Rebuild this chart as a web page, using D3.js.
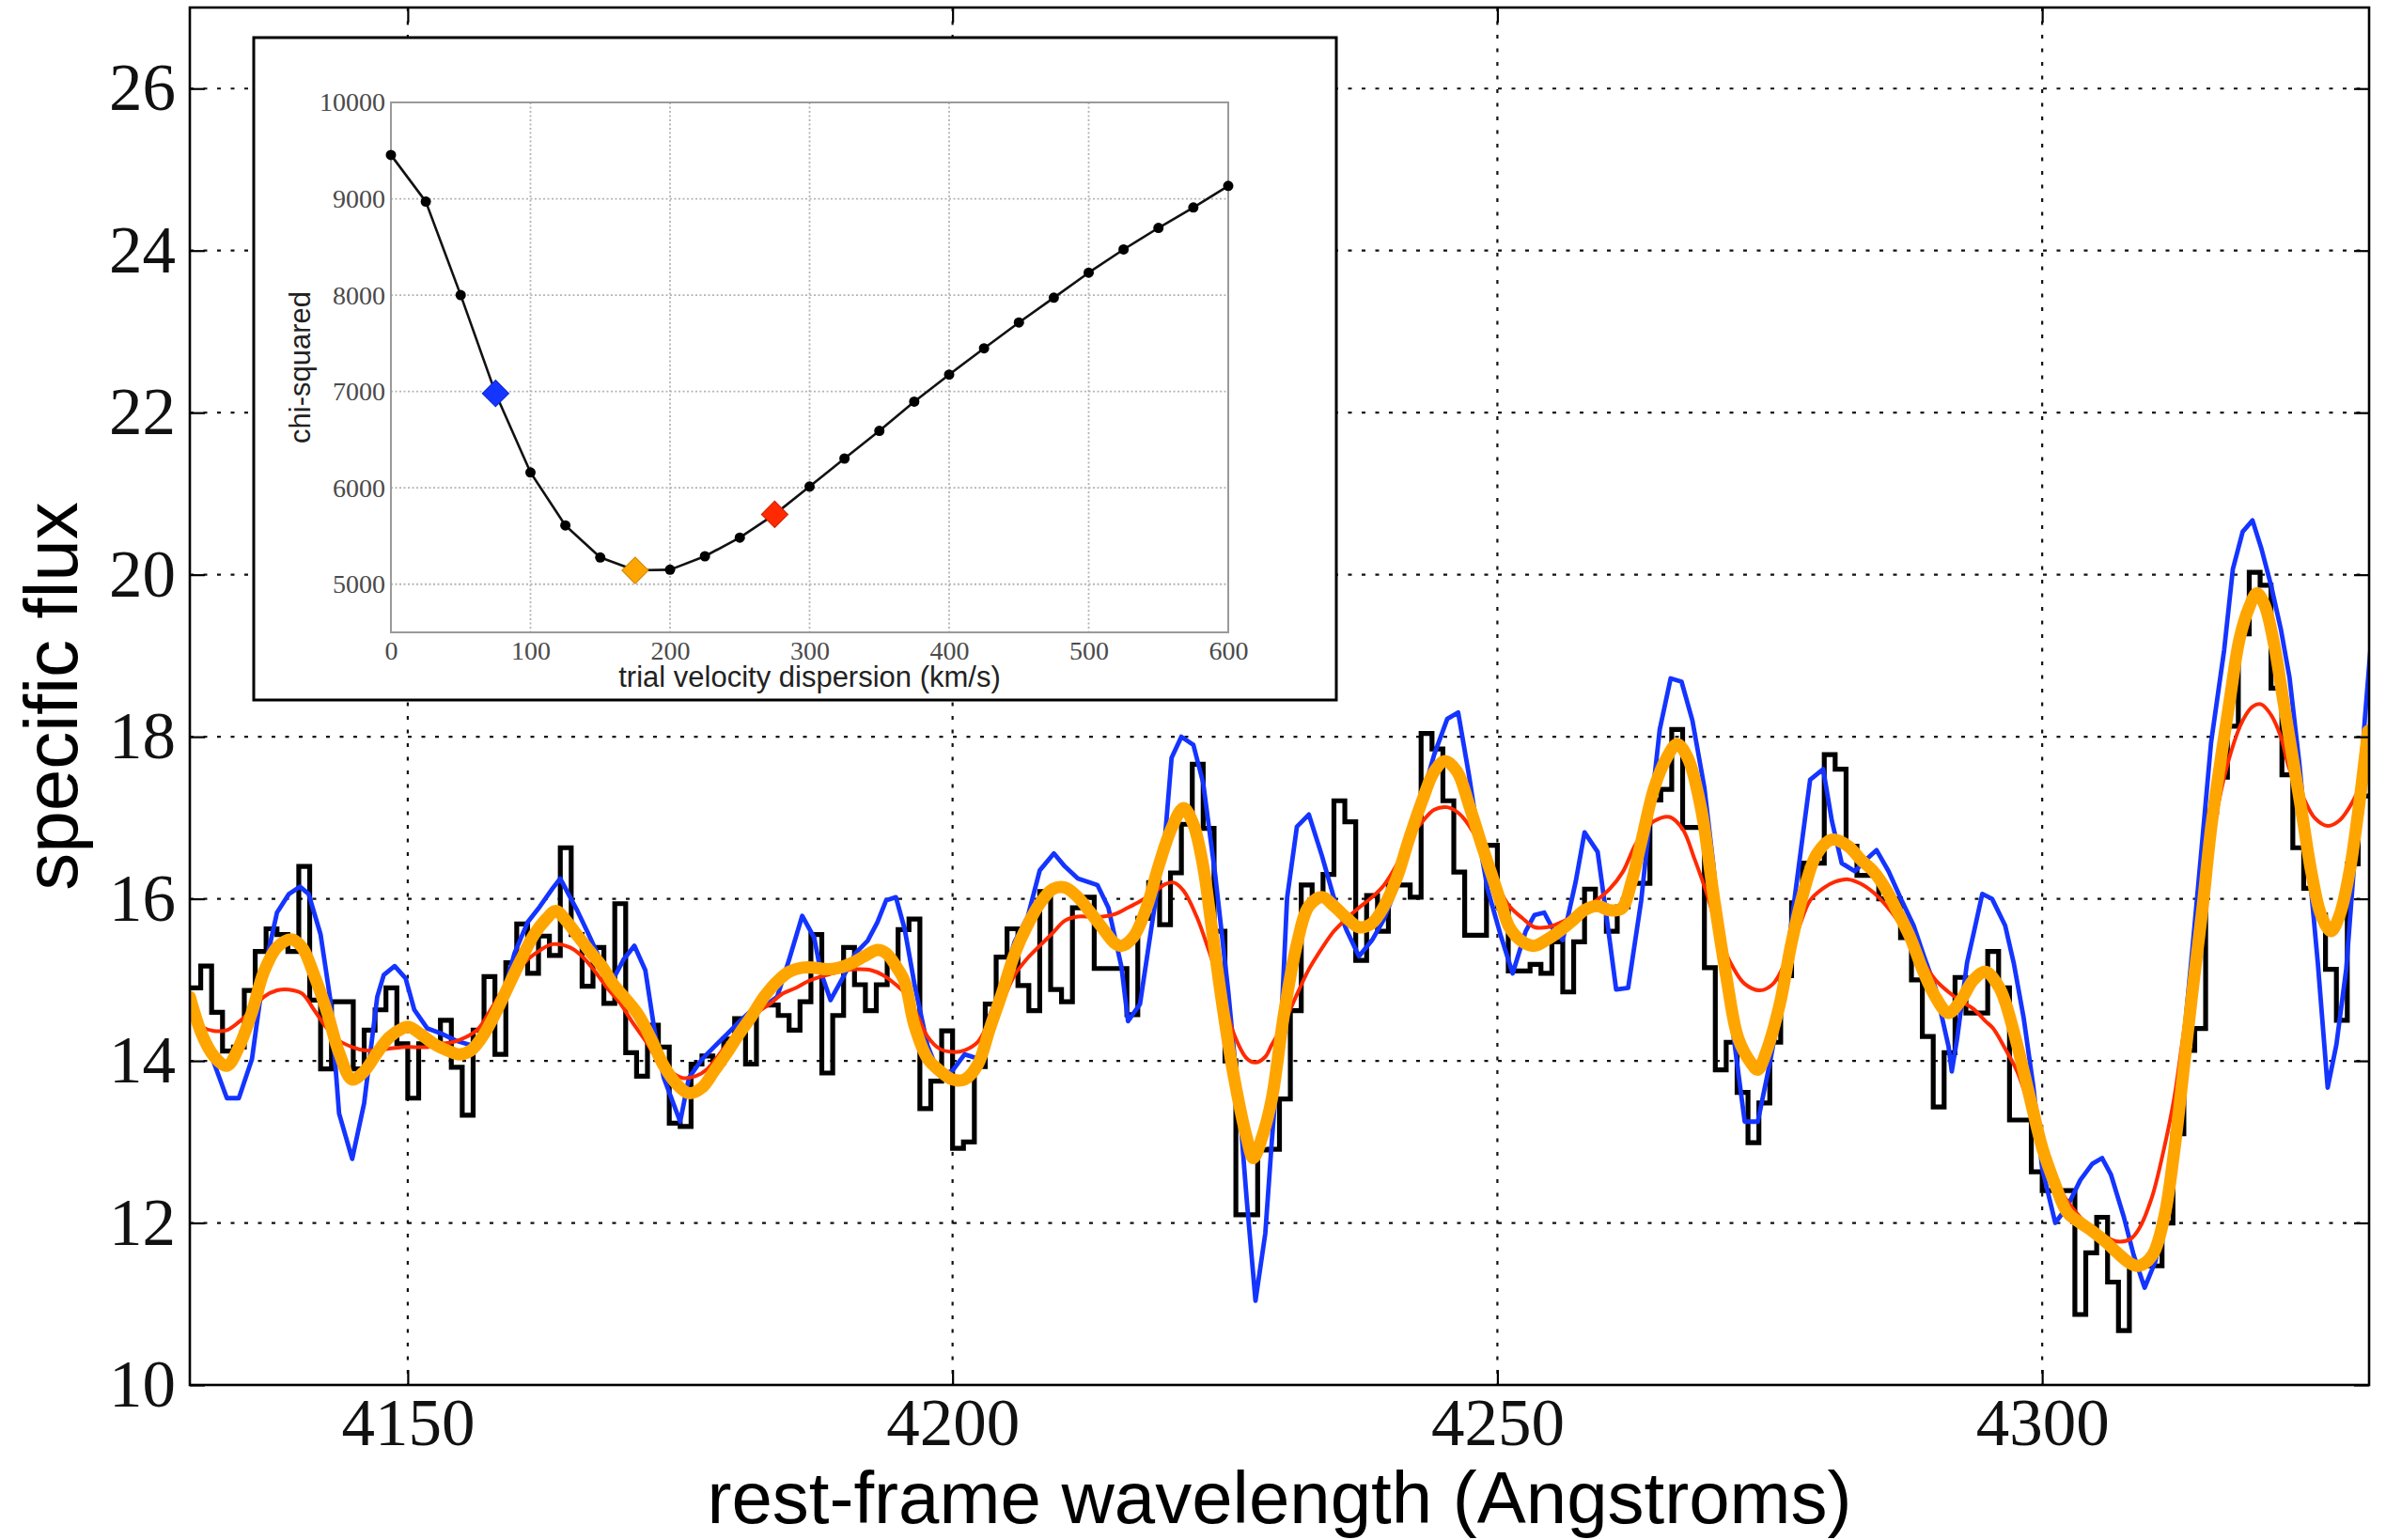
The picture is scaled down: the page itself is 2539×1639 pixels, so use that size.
<!DOCTYPE html>
<html>
<head>
<meta charset="utf-8">
<script src="https://cdn.jsdelivr.net/npm/d3@7"></script>
<style>
  html, body { margin: 0; padding: 0; background: #fff; }
  svg { display: block; }
</style>
</head>
<body>
<svg id="chart" width="2539" height="1639"></svg>
<script>
// ---------------------------------------------------------------------------
// Observed spectrum: 1 Angstrom bins, first bin starts at 4130 A
// ---------------------------------------------------------------------------
const binStart = 4130;
const binWidth = 1;
const observedFlux = [
  14.90, 15.17, 14.60, 14.12, 14.17, 14.87, 15.35, 15.63, 15.56, 15.35,
  16.40, 14.75, 13.90, 14.73, 14.73, 13.90, 14.38, 14.63, 14.90, 14.21,
  13.54, 14.21, 14.21, 14.50, 13.92, 13.33, 14.38, 15.04, 14.08, 15.21,
  15.69, 15.08, 15.54, 15.30, 16.63, 15.56, 14.92, 15.40, 14.71, 15.94,
  14.10, 13.81, 14.44, 14.17, 13.23, 13.19, 13.96, 14.06, 13.98, 14.27,
  14.52, 13.96, 14.69, 14.69, 14.56, 14.38, 14.73, 15.56, 13.85, 14.56,
  15.40, 14.94, 14.62, 14.94, 15.25, 15.62, 15.75, 13.41, 13.75, 14.37,
  12.92, 13.00, 13.93, 14.70, 15.28, 15.63, 14.93, 14.62, 16.09, 14.88,
  14.73, 15.89, 16.02, 15.14, 15.14, 15.14, 14.57, 15.76, 16.20, 15.68,
  16.32, 16.92, 17.66, 16.87, 15.60, 14.00, 12.10, 12.10, 12.90, 12.91,
  13.53, 14.62, 16.17, 15.99, 16.30, 17.21, 16.95, 15.24, 16.04, 15.60,
  16.17, 16.17, 16.02, 18.04, 17.85, 17.21, 16.33, 15.55, 15.55, 16.66,
  15.91, 15.11, 15.11, 15.19, 15.08, 15.47, 14.85, 15.47, 16.12, 15.91,
  15.60, 15.90, 16.19, 16.19, 17.22, 17.35, 18.09, 16.88, 16.88, 15.15,
  13.89, 14.23, 13.61, 12.99, 13.48, 14.23, 15.05, 15.95, 16.44, 16.44,
  17.78, 17.60, 16.65, 16.29, 16.29, 16.00, 16.00, 15.52, 15.00, 14.30,
  13.43, 14.10, 15.03, 14.59, 14.59, 15.35, 14.90, 13.27, 13.27, 12.63,
  12.40, 12.40, 12.40, 10.87, 11.63, 12.07, 11.27, 10.67, 11.47, 11.47,
  11.47, 12.00, 13.10, 14.13, 14.40, 17.07, 17.50, 18.13, 19.27, 20.03,
  19.87, 18.60, 17.53, 16.63, 16.13, 15.80, 15.13, 14.50, 16.43, 17.27
];

// ---------------------------------------------------------------------------
// Broadened template fits, [wavelength (A), flux] pairs
// ---------------------------------------------------------------------------
// sigma = 75 km/s (under-broadened)
const model75 = [
  [4130.0,14.75],[4131.1,14.40],[4132.2,13.98],[4133.4,13.54],[4134.5,13.54],[4135.7,14.02],
  [4136.8,15.10],[4138.0,15.83],[4139.1,16.06],[4140.1,16.15],[4140.9,16.06],[4142.0,15.56],
  [4142.9,14.75],[4143.7,13.35],[4144.9,12.79],[4146.0,13.48],[4147.2,14.79],[4147.8,15.06],
  [4148.8,15.17],[4149.8,15.02],[4150.6,14.63],[4151.8,14.40],[4153.2,14.33],[4154.4,14.25],
  [4155.4,14.21],[4156.4,14.17],[4157.5,14.37],[4158.7,14.79],[4159.8,15.33],[4161.0,15.71],
  [4162.1,15.90],[4163.3,16.13],[4164.0,16.25],[4165.5,15.87],[4166.6,15.56],[4167.8,15.21],
  [4168.9,15.02],[4169.8,15.25],[4170.8,15.42],[4171.8,15.12],[4172.7,14.33],[4173.5,13.79],
  [4175.0,13.25],[4175.8,13.79],[4177.0,14.02],[4178.1,14.17],[4179.3,14.33],[4180.4,14.48],
  [4181.6,14.63],[4182.7,14.67],[4183.9,14.79],[4185.0,15.25],[4186.2,15.79],[4187.3,15.52],
  [4187.9,15.10],[4188.8,14.75],[4189.9,15.02],[4191.1,15.33],[4192.2,15.48],[4193.1,15.71],
  [4193.9,15.98],[4194.8,16.02],[4195.6,15.63],[4196.5,14.95],[4197.7,14.19],[4198.8,13.82],
  [4200.0,13.88],[4201.1,14.08],[4202.3,14.03],[4203.4,14.55],[4204.6,14.96],[4205.7,15.47],
  [4206.9,15.78],[4208.0,16.35],[4209.3,16.56],[4210.3,16.40],[4211.5,16.25],[4212.6,16.20],
  [4213.3,16.17],[4214.3,15.89],[4215.5,15.16],[4216.1,14.49],[4217.2,14.70],[4218.4,15.78],
  [4219.5,16.76],[4220.1,17.74],[4221.0,18.00],[4222.1,17.90],[4223.0,17.43],[4224.1,16.30],
  [4225.3,14.86],[4226.4,13.31],[4227.0,12.28],[4227.8,11.04],[4228.7,11.87],[4229.3,13.01],
  [4230.2,14.56],[4230.7,16.01],[4231.6,16.89],[4232.7,17.04],[4233.9,16.53],[4235.0,16.01],
  [4236.2,15.60],[4237.3,15.29],[4238.5,15.49],[4239.6,15.75],[4240.8,16.17],[4241.9,16.74],
  [4243.1,17.26],[4244.2,17.78],[4245.4,18.22],[4246.4,18.30],[4247.4,17.52],[4248.3,16.74],
  [4249.1,16.12],[4250.3,15.55],[4251.4,15.08],[4252.6,15.60],[4253.4,15.80],[4254.3,15.83],
  [4255.2,15.60],[4256.0,15.49],[4257.2,16.22],[4258.0,16.82],[4259.2,16.58],[4260.0,15.80],
  [4260.9,14.88],[4262.0,14.90],[4263.2,15.98],[4264.1,17.11],[4264.9,18.09],[4265.9,18.72],
  [4266.9,18.68],[4267.9,18.20],[4269.0,17.37],[4269.8,16.44],[4270.7,15.21],[4271.6,14.38],
  [4272.7,13.25],[4273.9,13.25],[4275.0,13.97],[4276.2,14.85],[4277.0,15.72],[4277.9,16.65],
  [4278.7,17.47],[4279.9,17.60],[4280.7,16.96],[4281.6,16.44],[4282.8,16.34],[4283.9,16.49],
  [4284.8,16.60],[4285.9,16.34],[4287.1,15.98],[4288.2,15.67],[4289.1,15.31],[4290.2,14.90],
  [4291.4,14.18],[4291.7,13.87],[4292.2,14.28],[4293.1,15.21],[4293.7,15.57],[4294.5,16.06],
  [4295.4,16.00],[4296.6,15.67],[4297.4,15.20],[4298.3,14.53],[4299.2,13.67],[4300.0,12.67],
  [4301.2,12.00],[4302.3,12.20],[4303.5,12.53],[4304.6,12.73],[4305.5,12.80],[4306.3,12.60],
  [4307.5,12.07],[4308.4,11.60],[4309.4,11.20],[4310.4,11.53],[4311.2,12.07],[4312.1,13.00],
  [4312.9,14.13],[4313.8,15.40],[4314.7,16.73],[4315.5,17.93],[4316.7,19.07],[4317.5,20.07],
  [4318.4,20.53],[4319.3,20.67],[4320.1,20.33],[4321.0,19.87],[4321.9,19.33],[4322.7,18.73],
  [4323.6,17.67],[4324.4,16.53],[4325.3,15.20],[4326.2,13.67],[4327.0,14.20],[4327.9,15.13],
  [4328.8,16.73],[4329.6,18.20],[4330.2,19.20]
];

// sigma = 175 km/s (best fit)
const model175 = [
  [4130.0,14.79],[4131.1,14.33],[4132.2,14.06],[4133.4,13.94],[4134.5,14.17],[4135.7,14.60],
  [4136.8,15.10],[4138.0,15.40],[4139.3,15.50],[4140.3,15.40],[4141.4,15.06],[4142.6,14.60],
  [4143.7,14.10],[4144.9,13.77],[4146.0,13.87],[4147.2,14.10],[4148.3,14.29],[4149.5,14.40],
  [4150.1,14.42],[4151.2,14.33],[4152.4,14.21],[4153.8,14.12],[4154.7,14.08],[4155.8,14.13],
  [4157.0,14.33],[4158.1,14.60],[4159.3,14.94],[4160.4,15.25],[4161.6,15.56],[4162.7,15.75],
  [4163.6,15.85],[4164.6,15.72],[4165.5,15.56],[4166.6,15.37],[4167.8,15.17],[4168.9,14.94],
  [4170.1,14.75],[4171.2,14.56],[4172.4,14.25],[4173.5,13.94],[4174.7,13.71],[4175.8,13.60],
  [4177.0,13.67],[4178.1,13.87],[4179.3,14.10],[4180.4,14.33],[4181.6,14.56],[4182.7,14.79],
  [4183.9,14.98],[4185.0,15.10],[4186.2,15.15],[4187.3,15.15],[4188.5,15.13],[4189.6,15.15],
  [4190.8,15.21],[4191.9,15.29],[4193.1,15.37],[4193.9,15.33],[4194.8,15.17],[4195.6,14.98],
  [4196.5,14.44],[4197.7,14.03],[4198.8,13.88],[4200.0,13.77],[4201.1,13.77],[4202.3,13.95],
  [4203.4,14.39],[4204.6,14.86],[4205.7,15.32],[4206.9,15.68],[4208.0,15.94],[4209.2,16.12],
  [4210.3,16.14],[4211.5,16.02],[4212.6,15.84],[4213.8,15.63],[4214.9,15.45],[4215.5,15.42],
  [4216.6,15.53],[4217.8,15.89],[4218.9,16.40],[4220.1,16.87],[4221.2,17.12],[4222.1,16.92],
  [4223.0,16.40],[4223.8,15.63],[4224.7,14.75],[4225.8,13.82],[4227.0,13.05],[4227.6,12.80],
  [4228.5,13.10],[4229.3,13.53],[4230.4,14.56],[4231.6,15.44],[4232.7,15.91],[4233.9,16.02],
  [4235.0,15.91],[4236.2,15.76],[4237.3,15.65],[4238.5,15.70],[4239.6,15.91],[4240.8,16.27],
  [4241.9,16.74],[4243.1,17.21],[4244.2,17.57],[4245.2,17.70],[4246.3,17.57],[4247.4,17.16],
  [4248.5,16.69],[4249.4,16.33],[4250.3,15.96],[4251.1,15.65],[4252.3,15.47],[4253.4,15.42],
  [4254.6,15.50],[4255.7,15.60],[4256.9,15.73],[4258.0,15.86],[4259.2,15.91],[4260.3,15.86],
  [4261.4,15.88],[4262.3,16.20],[4263.2,16.70],[4264.4,17.37],[4265.5,17.73],[4266.5,17.91],
  [4267.5,17.73],[4268.7,17.11],[4269.8,16.08],[4271.0,15.05],[4272.1,14.28],[4273.3,13.97],
  [4273.9,13.89],[4274.7,14.12],[4275.9,14.69],[4277.0,15.46],[4278.2,16.13],[4279.3,16.55],
  [4280.7,16.73],[4282.2,16.65],[4283.3,16.49],[4284.5,16.34],[4285.6,16.13],[4286.8,15.82],
  [4287.9,15.52],[4289.1,15.10],[4290.2,14.79],[4291.4,14.59],[4292.5,14.74],[4293.7,15.00],
  [4294.8,15.10],[4296.0,14.92],[4296.6,14.73],[4297.7,14.20],[4298.9,13.53],[4300.0,12.93],
  [4301.2,12.47],[4302.3,12.13],[4303.5,12.00],[4304.6,11.90],[4305.8,11.77],[4306.9,11.63],
  [4308.1,11.50],[4308.9,11.47],[4310.1,11.60],[4311.2,12.07],[4312.1,12.87],[4312.9,13.80],
  [4313.8,14.87],[4314.7,15.87],[4315.5,16.87],[4316.4,17.73],[4317.3,18.53],[4318.1,19.20],
  [4319.0,19.60],[4319.7,19.77],[4320.4,19.63],[4321.3,19.13],[4322.1,18.47],[4323.0,17.73],
  [4323.9,17.00],[4324.7,16.33],[4325.6,15.80],[4326.5,15.60],[4327.3,15.80],[4328.2,16.33],
  [4329.0,17.07],[4329.9,18.07]
];

// sigma = 275 km/s (over-broadened)
const model275 = [
  [4130.0,14.56],[4131.1,14.42],[4132.2,14.37],[4133.4,14.38],[4134.5,14.48],[4135.7,14.63],
  [4136.8,14.79],[4138.0,14.87],[4139.1,14.88],[4140.3,14.83],[4141.4,14.63],[4142.6,14.40],
  [4143.7,14.25],[4144.9,14.17],[4146.0,14.13],[4147.2,14.13],[4148.3,14.15],[4149.5,14.17],
  [4150.6,14.17],[4151.8,14.17],[4153.0,14.21],[4154.1,14.23],[4155.3,14.29],[4156.5,14.40],
  [4157.6,14.63],[4158.7,14.87],[4159.9,15.10],[4161.0,15.25],[4162.2,15.37],[4163.3,15.44],
  [4164.9,15.40],[4166.0,15.29],[4167.2,15.10],[4168.3,14.90],[4169.5,14.71],[4170.6,14.48],
  [4171.8,14.25],[4172.9,14.02],[4174.1,13.87],[4175.2,13.79],[4176.4,13.81],[4177.5,13.90],
  [4178.7,14.10],[4179.8,14.29],[4181.0,14.48],[4182.1,14.60],[4183.3,14.71],[4184.4,14.83],
  [4185.6,14.90],[4186.7,14.98],[4187.9,15.04],[4189.0,15.08],[4190.2,15.12],[4191.3,15.13],
  [4192.5,15.12],[4193.6,15.06],[4194.8,14.94],[4195.9,14.79],[4196.9,14.52],[4197.7,14.30],
  [4198.8,14.15],[4200.0,14.11],[4201.1,14.13],[4202.3,14.23],[4203.4,14.49],[4204.6,14.75],
  [4205.7,15.06],[4206.9,15.27],[4208.0,15.42],[4209.2,15.58],[4210.3,15.73],[4211.5,15.78],
  [4212.6,15.78],[4213.8,15.78],[4214.9,15.81],[4216.1,15.89],[4217.2,15.97],[4218.4,16.07],
  [4219.5,16.18],[4220.3,16.20],[4221.2,16.10],[4222.4,15.78],[4223.5,15.37],[4224.7,14.86],
  [4225.8,14.34],[4227.0,14.03],[4227.8,13.98],[4228.7,14.05],[4229.3,14.20],[4230.4,14.46],
  [4231.6,14.82],[4232.7,15.13],[4233.9,15.39],[4235.0,15.60],[4236.2,15.76],[4237.3,15.89],
  [4238.5,16.02],[4239.6,16.17],[4240.8,16.43],[4241.9,16.74],[4243.1,16.95],[4244.2,17.10],
  [4245.4,17.13],[4246.5,17.05],[4247.7,16.84],[4248.8,16.53],[4250.0,16.17],[4251.1,15.91],
  [4252.3,15.76],[4253.4,15.65],[4254.6,15.65],[4255.7,15.70],[4256.9,15.78],[4258.0,15.89],
  [4259.2,15.99],[4260.3,16.12],[4261.5,16.33],[4262.6,16.65],[4263.5,16.84],[4264.4,16.96],
  [4265.8,17.01],[4267.0,16.86],[4268.1,16.49],[4269.3,16.03],[4270.4,15.52],[4271.6,15.16],
  [4272.7,14.95],[4274.1,14.87],[4275.3,14.95],[4276.4,15.21],[4277.6,15.62],[4278.7,15.98],
  [4279.9,16.13],[4281.0,16.21],[4282.2,16.24],[4283.3,16.19],[4284.5,16.08],[4285.6,15.93],
  [4286.8,15.72],[4287.9,15.46],[4289.1,15.21],[4290.2,15.00],[4291.4,14.85],[4292.5,14.74],
  [4293.7,14.64],[4294.8,14.49],[4295.5,14.40],[4296.6,14.15],[4297.7,13.87],[4298.9,13.40],
  [4300.0,12.93],[4301.2,12.53],[4302.3,12.27],[4303.5,12.07],[4304.6,11.93],[4305.8,11.83],
  [4306.9,11.77],[4308.1,11.80],[4308.9,11.93],[4310.1,12.33],[4311.2,12.93],[4312.1,13.53],
  [4312.9,14.27],[4313.8,15.13],[4315.0,16.20],[4316.1,17.13],[4317.3,17.80],[4318.4,18.20],
  [4319.3,18.37],[4320.1,18.40],[4321.0,18.27],[4321.9,18.00],[4322.7,17.60],[4323.9,17.27],
  [4325.0,17.00],[4326.2,16.90],[4327.3,16.97],[4328.5,17.20],[4329.6,17.53],[4330.2,17.73]
];

// ---------------------------------------------------------------------------
// Inset: chi-squared versus trial velocity dispersion
// ---------------------------------------------------------------------------
const trialSigma = [0, 25, 50, 75, 100, 125, 150, 175, 200, 225, 250, 275, 300,
                    325, 350, 375, 400, 425, 450, 475, 500, 525, 550, 575, 600];
const chiSquared = [9455, 8970, 8000, 6980, 6160, 5610, 5277, 5143, 5150, 5290, 5483, 5725, 6013,
                    6304, 6591, 6895, 7175, 7448, 7716, 7973, 8233, 8474, 8698, 8910, 9134];
const markedSigma = [75, 175, 275];
const markedColor = ["#1434ff", "#ffa500", "#ff2a00"];

// Axis ticks
const xTicks = [4150, 4200, 4250, 4300];
const yTicks = [10, 12, 14, 16, 18, 20, 22, 24, 26];
const insetXTicks = [0, 100, 200, 300, 400, 500, 600];
const insetYTicks = [5000, 6000, 7000, 8000, 9000, 10000];

// ---------------------------------------------------------------------------
// Layout
// ---------------------------------------------------------------------------
const svg = d3.select("#chart");
const plot = { left: 202, right: 2521, top: 8, bottom: 1474 };
const inset = { left: 270, right: 1422, top: 40, bottom: 745 };
const insetPlot = { left: 416, right: 1307, top: 109, bottom: 673 };

const serif = "'Liberation Serif', 'DejaVu Serif', serif";
const sans = "'Liberation Sans', Arial, Helvetica, sans-serif";

const x = d3.scaleLinear().domain([4130, 4330]).range([plot.left, plot.right]);
const y = d3.scaleLinear().domain([10, 27]).range([plot.bottom, plot.top]);

svg.append("rect").attr("width", 2539).attr("height", 1639).attr("fill", "#fff");

svg.append("defs").append("clipPath").attr("id", "plot-clip")
  .append("rect")
  .attr("x", plot.left).attr("y", plot.top)
  .attr("width", plot.right - plot.left).attr("height", plot.bottom - plot.top);

// dotted grid
const grid = svg.append("g").attr("stroke", "#111").attr("stroke-width", 2.2)
  .attr("stroke-dasharray", "4,10.5").attr("fill", "none");
grid.selectAll("line.gx").data(xTicks).join("line").attr("class", "gx")
  .attr("x1", d => x(d)).attr("x2", d => x(d))
  .attr("y1", plot.top).attr("y2", plot.bottom);
grid.selectAll("line.gy").data(yTicks).join("line").attr("class", "gy")
  .attr("y1", d => y(d)).attr("y2", d => y(d))
  .attr("x1", plot.left).attr("x2", plot.right);

// spectrum and model fits
const dataLayer = svg.append("g").attr("clip-path", "url(#plot-clip)");

const observedPoints = observedFlux.map((f, i) => [binStart + i * binWidth, f]);
observedPoints.push([binStart + observedFlux.length * binWidth, observedFlux[observedFlux.length - 1]]);

const stepLine = d3.line().x(d => x(d[0])).y(d => y(d[1])).curve(d3.curveStepAfter);
const polyLine = d3.line().x(d => x(d[0])).y(d => y(d[1])).curve(d3.curveLinear);
const smoothLine = d3.line().x(d => x(d[0])).y(d => y(d[1])).curve(d3.curveCatmullRom.alpha(0.5));

dataLayer.append("path").datum(observedPoints)
  .attr("d", stepLine).attr("fill", "none")
  .attr("stroke", "#000").attr("stroke-width", 5.2).attr("stroke-linejoin", "miter");

dataLayer.append("path").datum(model75)
  .attr("d", polyLine).attr("fill", "none")
  .attr("stroke", markedColor[0]).attr("stroke-width", 4.8).attr("stroke-linejoin", "round");

dataLayer.append("path").datum(model275)
  .attr("d", smoothLine).attr("fill", "none")
  .attr("stroke", markedColor[2]).attr("stroke-width", 4).attr("stroke-linejoin", "round");

dataLayer.append("path").datum(model175)
  .attr("d", smoothLine).attr("fill", "none")
  .attr("stroke", markedColor[1]).attr("stroke-width", 13).attr("stroke-linejoin", "round")
  .attr("stroke-linecap", "round");

// axes with inward ticks
const tickLen = 16;
const axBottom = svg.append("g").attr("transform", `translate(0,${plot.bottom})`)
  .call(d3.axisBottom(x).tickValues(xTicks).tickSizeInner(-tickLen).tickSizeOuter(0)
        .tickPadding(14).tickFormat(d3.format("d")));
const axLeft = svg.append("g").attr("transform", `translate(${plot.left},0)`)
  .call(d3.axisLeft(y).tickValues(yTicks).tickSizeInner(-tickLen).tickSizeOuter(0)
        .tickPadding(15).tickFormat(d3.format("d")));
const axTop = svg.append("g").attr("transform", `translate(0,${plot.top})`)
  .call(d3.axisTop(x).tickValues(xTicks).tickSizeInner(-tickLen).tickSizeOuter(0).tickFormat(""));
const axRight = svg.append("g").attr("transform", `translate(${plot.right},0)`)
  .call(d3.axisRight(y).tickValues(yTicks).tickSizeInner(-tickLen).tickSizeOuter(0).tickFormat(""));

[axBottom, axLeft, axTop, axRight].forEach(g => {
  g.select(".domain").remove();
  g.selectAll(".tick line").attr("stroke", "#000").attr("stroke-width", 2.2);
  g.selectAll(".tick text").attr("fill", "#111")
    .style("font-family", serif).style("font-size", "71px");
});

svg.append("rect")
  .attr("x", plot.left).attr("y", plot.top)
  .attr("width", plot.right - plot.left).attr("height", plot.bottom - plot.top)
  .attr("fill", "none").attr("stroke", "#000").attr("stroke-width", 2.6);

// axis titles
svg.append("text")
  .attr("x", (plot.left + plot.right) / 2).attr("y", 1621)
  .attr("text-anchor", "middle")
  .style("font-family", sans).style("font-size", "78px").attr("fill", "#000")
  .text("rest-frame wavelength (Angstroms)");

svg.append("text")
  .attr("transform", `translate(82,${(plot.top + plot.bottom) / 2}) rotate(-90)`)
  .attr("text-anchor", "middle")
  .style("font-family", sans).style("font-size", "80px").attr("fill", "#000")
  .text("specific flux");

// ---------------------------------------------------------------------------
// Inset panel
// ---------------------------------------------------------------------------
const ins = svg.append("g");
ins.append("rect")
  .attr("x", inset.left).attr("y", inset.top)
  .attr("width", inset.right - inset.left).attr("height", inset.bottom - inset.top)
  .attr("fill", "#fff").attr("stroke", "#000").attr("stroke-width", 3);

const xi = d3.scaleLinear().domain([0, 600]).range([insetPlot.left, insetPlot.right]);
const yi = d3.scaleLinear().domain([4500, 10000]).range([insetPlot.bottom, insetPlot.top]);

const igrid = ins.append("g").attr("stroke", "#b4b4b4").attr("stroke-width", 1.8)
  .attr("stroke-dasharray", "2,2.5");
igrid.selectAll("line.ix").data(insetXTicks).join("line").attr("class", "ix")
  .attr("x1", d => xi(d)).attr("x2", d => xi(d))
  .attr("y1", insetPlot.top).attr("y2", insetPlot.bottom);
igrid.selectAll("line.iy").data(insetYTicks).join("line").attr("class", "iy")
  .attr("y1", d => yi(d)).attr("y2", d => yi(d))
  .attr("x1", insetPlot.left).attr("x2", insetPlot.right);

const iAxB = ins.append("g").attr("transform", `translate(0,${insetPlot.bottom})`)
  .call(d3.axisBottom(xi).tickValues(insetXTicks).tickSize(0).tickPadding(9).tickFormat(d3.format("d")));
const iAxL = ins.append("g").attr("transform", `translate(${insetPlot.left},0)`)
  .call(d3.axisLeft(yi).tickValues(insetYTicks).tickSize(0).tickPadding(6).tickFormat(d3.format("d")));
[iAxB, iAxL].forEach(g => {
  g.select(".domain").remove();
  g.selectAll(".tick text").attr("fill", "#4a4a4a")
    .style("font-family", serif).style("font-size", "28px");
});

ins.append("rect")
  .attr("x", insetPlot.left).attr("y", insetPlot.top)
  .attr("width", insetPlot.right - insetPlot.left).attr("height", insetPlot.bottom - insetPlot.top)
  .attr("fill", "none").attr("stroke", "#9a9a9a").attr("stroke-width", 2);

// chi-squared curve joins the trial points with straight segments
const chiPoints = trialSigma.map((s, i) => [s, chiSquared[i]]);
ins.append("path").datum(chiPoints)
  .attr("d", d3.line().x(d => xi(d[0])).y(d => yi(d[1])).curve(d3.curveLinear))
  .attr("fill", "none").attr("stroke", "#111").attr("stroke-width", 2.6)
  .attr("stroke-linejoin", "round");

ins.selectAll("circle.pt").data(chiPoints).join("circle").attr("class", "pt")
  .attr("cx", d => xi(d[0])).attr("cy", d => yi(d[1])).attr("r", 5.5).attr("fill", "#000");

const diamond = d3.symbol().type(d3.symbolSquare).size(400);
ins.selectAll("path.mark").data(markedSigma).join("path").attr("class", "mark")
  .attr("d", diamond)
  .attr("transform", s => `translate(${xi(s)},${yi(chiSquared[trialSigma.indexOf(s)])}) rotate(45)`)
  .attr("fill", (s, i) => markedColor[i])
  .attr("stroke", (s, i) => d3.color(markedColor[i]).darker(0.6))
  .attr("stroke-width", 1);

ins.append("text")
  .attr("x", (insetPlot.left + insetPlot.right) / 2).attr("y", 731)
  .attr("text-anchor", "middle")
  .style("font-family", sans).style("font-size", "31px").attr("fill", "#222")
  .text("trial velocity dispersion (km/s)");

ins.append("text")
  .attr("transform", `translate(330,${(insetPlot.top + insetPlot.bottom) / 2}) rotate(-90)`)
  .attr("text-anchor", "middle")
  .style("font-family", sans).style("font-size", "31px").attr("fill", "#222")
  .text("chi-squared");
</script>
</body>
</html>
